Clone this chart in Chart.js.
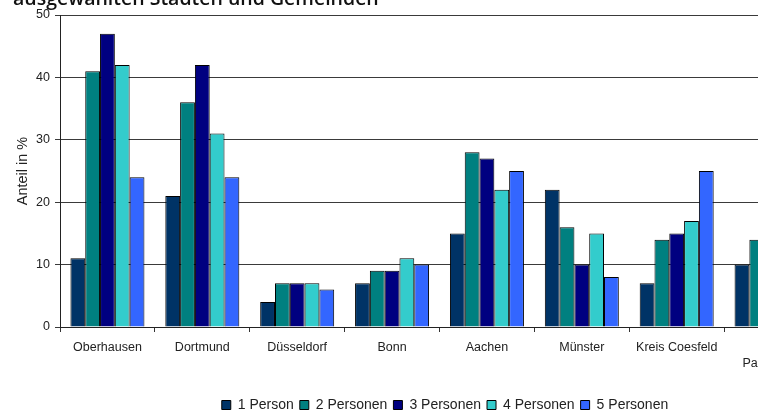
<!DOCTYPE html>
<html lang="de">
<head>
<meta charset="utf-8">
<title>Haushaltsgrößen</title>
<script src="https://cdn.jsdelivr.net/npm/chart.js@4.4.1/dist/chart.umd.min.js"></script>
<style>
  html, body { margin: 0; padding: 0; background: #fff; overflow: hidden; }
  body { width: 758px; height: 414px; position: relative; }
  #chartTitle {
    position: absolute; left: 13px; top: -12px; z-index: 2;
    font: 600 19.5px "Open Sans", sans-serif; line-height: 19px;
    color: #111; white-space: nowrap;
  }
  #wrap { position: absolute; left: 0; top: 0; width: 890px; height: 422px; }
</style>
</head>
<body>
<div id="chartTitle">ausgewählten Städten und Gemeinden</div>
<div id="wrap"><canvas id="householdChart" width="890" height="422"></canvas></div>
<script>
// Anteil der Haushalte nach Personenzahl (%)
const categories = ["Oberhausen", "Dortmund", "Düsseldorf", "Bonn", "Aachen", "Münster", "Kreis Coesfeld", ["", "Paderborn"]];
const seriesNames = ["1 Person", "2 Personen", "3 Personen", "4 Personen", "5 Personen"];
const person1 = [11, 21, 4, 7, 15, 22, 7, 10];
const person2 = [41, 36, 7, 9, 28, 16, 14, 14];
const person3 = [47, 42, 7, 9, 27, 10, 15, null];   // last group cut off in the picture
const person4 = [42, 31, 7, 11, 22, 15, 17, null];
const person5 = [24, 24, 6, 10, 25, 8, 25, null];
const yTicks = [0, 10, 20, 30, 40, 50];
const seriesColors = ["#003366", "#008080", "#000080", "#33CCCC", "#3366FF"];

const FONT = "'Liberation Sans', Arial, sans-serif";

document.addEventListener("DOMContentLoaded", () => {
  initHouseholdChart();
});

function initHouseholdChart() {
  const ctx = document.getElementById("householdChart");
  if (!ctx || typeof Chart === "undefined") return;

  const values = [person1, person2, person3, person4, person5];

  new Chart(ctx, {
    type: "bar",
    data: {
      labels: categories,
      datasets: seriesNames.map((name, i) => ({
        label: name,
        data: values[i],
        backgroundColor: seriesColors[i],
        borderColor: "#000",
        borderWidth: 1,
        categoryPercentage: 0.78,
        barPercentage: 1.0
      }))
    },
    options: {
      responsive: false,
      animation: false,
      layout: { padding: { top: 15, left: 0, right: 0, bottom: 0 } },
      plugins: {
        title: { display: false },
        tooltip: { enabled: false },
        legend: {
          position: "bottom",
          labels: {
            boxWidth: 9,
            boxHeight: 9,
            padding: 6,
            color: "#222",
            font: { family: FONT, size: 14 }
          }
        }
      },
      scales: {
        x: {
          offset: true,
          grid: { offset: true, drawOnChartArea: false, drawTicks: true, tickLength: 5, color: "#333" },
          border: { color: "#222", width: 1 },
          ticks: {
            color: "#222",
            padding: 8,
            maxRotation: 0,
            autoSkip: false,
            font: { family: FONT, size: 12.5, lineHeight: 1.25 }
          },
          afterFit: (s) => { s.height = 65; }
        },
        y: {
          min: yTicks[0],
          max: yTicks[yTicks.length - 1],
          afterBuildTicks: (s) => { s.ticks = yTicks.map((v) => ({ value: v })); },
          grid: { color: "#3a3a3a", lineWidth: 1, drawTicks: true, tickLength: 5 },
          border: { color: "#222", width: 1 },
          ticks: {
            color: "#222",
            padding: 5,
            font: { family: FONT, size: 12.5 }
          },
          title: {
            display: true,
            text: "Anteil in %",
            color: "#222",
            padding: { top: 14, bottom: 0 },
            font: { family: FONT, size: 14.5 }
          },
          afterFit: (s) => { s.width = 60; }
        },
        yRight: {
          position: "right",
          display: true,
          grid: { display: false },
          border: { display: false },
          ticks: { display: false },
          afterFit: (s) => { s.width = 71; }
        }
      }
    }
  });
}
</script>
</body>
</html>
